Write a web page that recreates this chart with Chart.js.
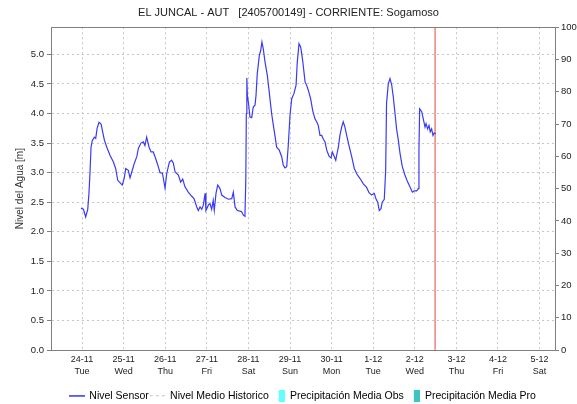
<!DOCTYPE html>
<html>
<head>
<meta charset="utf-8">
<title>EL JUNCAL - AUT</title>
<script src="https://cdn.jsdelivr.net/npm/chart.js@4.4.0/dist/chart.umd.min.js"></script>
<style>
  html, body { margin:0; padding:0; background:#fff; }
  #wrap { width:577px; height:404px; }
</style>
</head>
<body>
<div id="wrap"><canvas id="chart" width="577" height="404"></canvas></div>
<script>
// Nivel del agua - estacion EL JUNCAL (hours counted from 24-11 00:00)
const FONT = '"Liberation Sans", Arial, sans-serif';

const sensorHours = [
  -0.6, 0.8, 2.1, 3.3, 4.0, 4.6, 5.2, 5.9, 7.1, 7.9,
  8.7, 9.8, 11.0, 11.7, 12.9, 14.3, 16.2, 18.1, 19.4, 20.6,
  21.9, 23.2, 24.4, 25.2, 26.7, 27.7, 29.0, 30.2, 31.6, 32.5,
  34.0, 35.4, 36.3, 37.3, 38.7, 39.8, 41.1, 42.5, 43.7, 45.0,
  46.4, 47.9, 48.9, 50.4, 51.7, 52.7, 53.7, 55.6, 56.9, 58.1,
  59.4, 61.3, 63.3, 64.6, 66.2, 67.1, 68.1, 69.1, 70.0, 71.0,
  71.5, 72.9, 73.8, 74.8, 75.7, 76.3, 77.3, 78.3, 79.6, 80.6,
  82.5, 84.4, 86.4, 87.3, 88.3, 89.6, 91.2, 92.1, 93.1, 94.0,
  94.5, 94.8, 95.1, 95.4, 96.0, 96.9, 97.9, 98.8, 99.8, 100.4,
  101.1, 102.3, 103.1, 103.8, 104.6, 105.6, 106.9, 108.1, 109.4, 110.4,
  111.3, 112.3, 113.8, 115.2, 116.1, 117.1, 118.1, 119.0, 120.0, 121.0,
  122.3, 123.5, 124.2, 125.2, 126.2, 127.3, 128.7, 129.6, 130.6, 131.9,
  133.1, 134.4, 135.4, 136.3, 137.3, 138.3, 139.2, 140.2, 141.2, 142.5,
  143.7, 144.4, 145.6, 146.4, 146.9, 147.9, 148.8, 149.8, 150.7, 151.7,
  152.7, 154.0, 155.6, 157.1, 158.5, 160.4, 162.3, 164.2, 165.6, 167.1,
  168.6, 169.6, 170.6, 171.5, 172.5, 173.2, 174.4, 175.2, 175.7, 176.7,
  177.7, 178.7, 179.6, 180.6, 181.5, 182.5, 183.5, 184.8, 186.3, 187.9,
  189.2, 190.6, 191.7, 193.1, 194.0, 194.4, 194.8, 196.0, 196.9, 197.9,
  198.5, 199.4, 200.2, 200.9, 201.7, 202.5, 203.2, 204.1
];
const sensorLevels = [
  2.40, 2.38, 2.25, 2.38, 2.65, 3.00, 3.43, 3.54, 3.60, 3.58,
  3.75, 3.85, 3.82, 3.72, 3.55, 3.43, 3.29, 3.18, 3.07, 2.87,
  2.83, 2.79, 2.91, 3.07, 3.04, 2.91, 3.04, 3.16, 3.27, 3.41,
  3.50, 3.52, 3.46, 3.60, 3.43, 3.35, 3.35, 3.24, 3.13, 3.00,
  2.99, 2.74, 2.99, 3.18, 3.21, 3.16, 3.01, 2.96, 2.84, 2.89,
  2.76, 2.67, 2.60, 2.56, 2.42, 2.36, 2.42, 2.38, 2.45, 2.65,
  2.36, 2.45, 2.48, 2.38, 2.53, 2.36, 2.65, 2.79, 2.73, 2.62,
  2.58, 2.55, 2.56, 2.67, 2.42, 2.36, 2.35, 2.34, 2.28, 2.26,
  2.87, 4.00, 4.60, 4.31, 4.19, 3.94, 3.93, 4.11, 4.14, 4.31,
  4.67, 4.98, 5.07, 5.21, 5.09, 4.87, 4.65, 4.34, 4.00, 3.80,
  3.63, 3.43, 3.38, 3.27, 3.13, 3.08, 3.10, 3.46, 3.97, 4.25,
  4.34, 4.48, 4.87, 5.18, 5.12, 4.90, 4.53, 4.48, 4.39, 4.25,
  4.05, 3.91, 3.86, 3.80, 3.63, 3.63, 3.57, 3.52, 3.38, 3.28,
  3.25, 3.35, 3.27, 3.21, 3.29, 3.43, 3.63, 3.77, 3.86, 3.77,
  3.63, 3.46, 3.27, 3.07, 2.98, 2.90, 2.81, 2.75, 2.66, 2.62,
  2.65, 2.56, 2.50, 2.36, 2.39, 2.50, 2.55, 3.04, 4.17, 4.50,
  4.59, 4.48, 4.28, 4.00, 3.74, 3.55, 3.32, 3.10, 2.96, 2.84,
  2.76, 2.67, 2.69, 2.69, 2.73, 3.38, 4.08, 4.03, 3.91, 3.77,
  3.83, 3.74, 3.80, 3.69, 3.74, 3.63, 3.67, 3.66
];

// series shown only in the legend (no values in this period)
const historicLevels = [];
const precipObs = [];
const precipPro = [];

const dayHours = [0, 24, 48, 72, 96, 120, 144, 168, 192, 216, 240, 264];
const dayDates = ['24-11','25-11','26-11','27-11','28-11','29-11','30-11','1-12','2-12','3-12','4-12','5-12'];
const dayNames = ['Tue','Wed','Thu','Fri','Sat','Sun','Mon','Tue','Wed','Thu','Fri','Sat'];
const levelTicks = [0, 0.5, 1.0, 1.5, 2.0, 2.5, 3.0, 3.5, 4.0, 4.5, 5.0];

const nowHour = 203.7;
const xMin = -17.9, xMax = 272.9;
const levelMax = 5.46;

const AXIS = '#808080', GRID = '#c6c6c6', TEXT = '#222';

// little pictures for the legend keys
function swatch(kind, color){
  const c = document.createElement('canvas');
  if(kind === 'box'){
    c.width = 14; c.height = 12;
    const g = c.getContext('2d');
    g.fillStyle = color; g.fillRect(8, 0, 6, 12);
  } else {
    c.width = 16; c.height = 3;
    const g = c.getContext('2d');
    g.fillStyle = color;
    if(kind === 'dash'){ for(let x=0; x<16; x+=6) g.fillRect(x, 1, 3, 1); }
    else g.fillRect(0, 1, 16, 1.5);
  }
  return c;
}

const legendKeys = [
  swatch('line', '#2020ee'),
  swatch('dash', '#c0c0c0'),
  swatch('box', '#66ffff'),
  swatch('box', '#3fc4c4')
];

const frameTop = {
  id: 'frameTop',
  afterDraw(chart){
    const {ctx, chartArea: a} = chart;
    ctx.save();
    ctx.strokeStyle = AXIS; ctx.lineWidth = 1;
    ctx.beginPath();
    ctx.moveTo(a.left, Math.round(a.top) + 0.5);
    ctx.lineTo(a.right, Math.round(a.top) + 0.5);
    ctx.stroke();
    ctx.restore();
  }
};

new Chart(document.getElementById('chart'), {
  type: 'line',
  data: {
    datasets: [
      { label: 'Nivel Sensor', yAxisID: 'y',
        data: sensorHours.map((h, i) => ({x: h, y: sensorLevels[i]})),
        borderColor: '#3a3af6', borderWidth: 1.2, pointRadius: 0, tension: 0 },
      { label: 'Nivel Medio Historico', yAxisID: 'y', data: historicLevels,
        borderColor: '#c0c0c0', borderDash: [3, 3], borderWidth: 1, pointRadius: 0 },
      { type: 'bar', label: 'Precipitación Media Obs', yAxisID: 'y1', data: precipObs, backgroundColor: '#66ffff' },
      { type: 'bar', label: 'Precipitación Media Pro', yAxisID: 'y1', data: precipPro, backgroundColor: '#3fc4c4' },
      { label: 'ahora', yAxisID: 'y1',
        data: [{x: nowHour, y: 0}, {x: nowHour, y: 100}],
        borderColor: '#e8443c', borderWidth: 1, pointRadius: 0 }
    ]
  },
  options: {
    responsive: false,
    animation: false,
    layout: { padding: 0 },
    scales: {
      x: {
        type: 'linear', min: xMin, max: xMax, offset: false,
        afterBuildTicks: s => { s.ticks = dayHours.map(v => ({value: v})); },
        afterFit: s => { s.height = 38.5; },
        ticks: {
          autoSkip: false, maxRotation: 0, padding: 4, color: TEXT,
          font: {family: FONT, size: 9, lineHeight: 1.33},
          callback: (v, i) => [dayDates[i], dayNames[i]]
        },
        grid: { color: GRID, drawTicks: false, offset: false },
        border: { color: AXIS, dash: [2, 3] }
      },
      y: {
        position: 'left', min: 0, max: levelMax,
        afterBuildTicks: s => { s.ticks = levelTicks.map(v => ({value: v})); },
        afterFit: s => { s.width = 51; },
        ticks: { padding: 3, color: TEXT, font: {family: FONT, size: 9.5}, callback: v => Number(v).toFixed(1) },
        grid: { color: GRID, tickLength: 4, tickColor: AXIS },
        border: { color: AXIS, dash: [2, 3] },
        title: { display: true, text: 'Nivel del Agua [m]', color: '#333',
                 font: {family: FONT, size: 10}, padding: {top: 14, bottom: 0} }
      },
      y1: {
        position: 'right', min: 0, max: 100,
        afterFit: s => { s.width = 22; },
        ticks: { stepSize: 10, padding: 2, color: TEXT, font: {family: FONT, size: 9.5} },
        grid: { drawOnChartArea: false, tickLength: 4, tickColor: AXIS },
        border: { color: AXIS }
      }
    },
    plugins: {
      title: {
        display: true,
        text: 'EL JUNCAL - AUT   [2405700149] - CORRIENTE: Sogamoso',
        color: TEXT, font: {family: FONT, size: 11, weight: 'normal'},
        padding: {top: 6, bottom: 8}
      },
      legend: {
        position: 'bottom', fullSize: false, maxHeight: 15.5,
        labels: {
          usePointStyle: true, pointStyleWidth: 14, padding: 2, color: TEXT,
          font: {family: FONT, size: 10.5},
          generateLabels: chart => chart.data.datasets.slice(0, 4).map((d, i) => ({
            text: d.label, datasetIndex: i, pointStyle: legendKeys[i],
            fillStyle: 'transparent', strokeStyle: 'transparent', lineWidth: 0, hidden: false
          }))
        }
      },
      tooltip: { enabled: false }
    }
  },
  plugins: [frameTop]
});
</script>
</body>
</html>
